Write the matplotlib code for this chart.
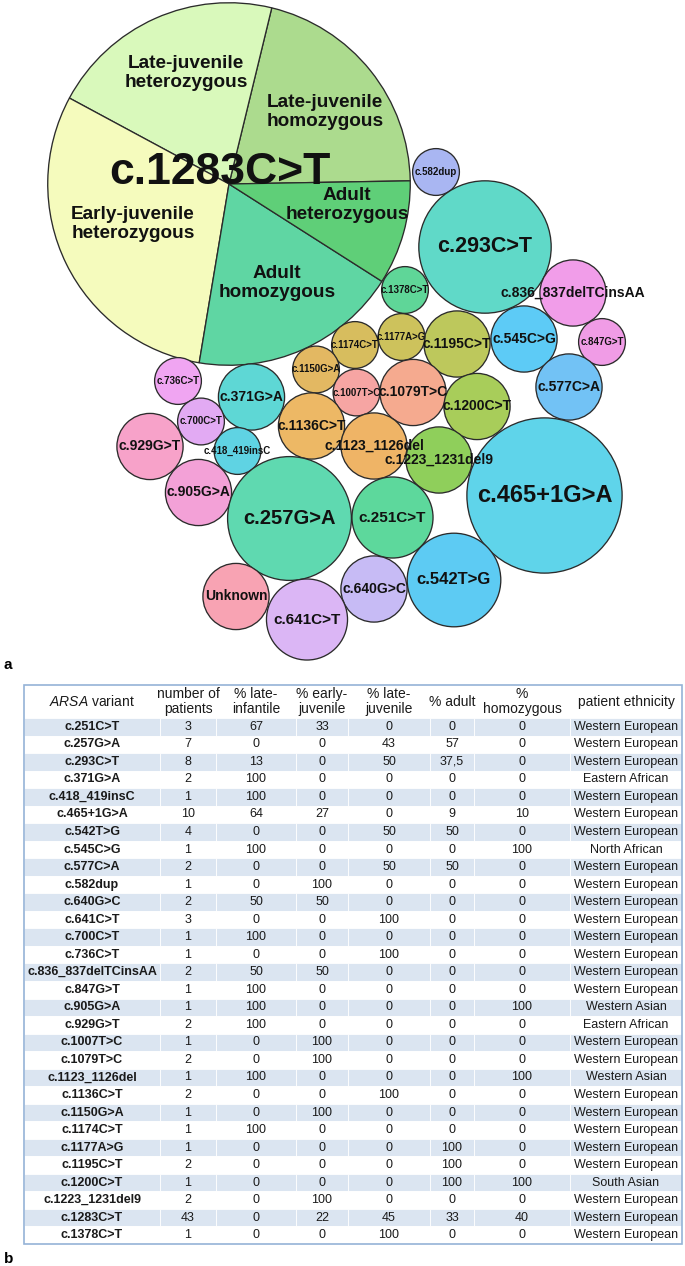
import matplotlib
matplotlib.use("Agg")
import matplotlib.pyplot as plt
from matplotlib.patches import Circle, Rectangle
import numpy as np

plt.rcParams['font.family'] = ['Liberation Sans', 'DejaVu Sans']
plt.rcParams['mathtext.fontset'] = 'custom'
plt.rcParams['mathtext.it'] = 'Liberation Sans:italic'
plt.rcParams['mathtext.rm'] = 'Liberation Sans'

# ---------------- data (table b) ----------------
variants = ["c.251C>T", "c.257G>A", "c.293C>T", "c.371G>A", "c.418_419insC",
            "c.465+1G>A", "c.542T>G", "c.545C>G", "c.577C>A", "c.582dup",
            "c.640G>C", "c.641C>T", "c.700C>T", "c.736C>T", "c.836_837delTCinsAA",
            "c.847G>T", "c.905G>A", "c.929G>T", "c.1007T>C", "c.1079T>C",
            "c.1123_1126del", "c.1136C>T", "c.1150G>A", "c.1174C>T", "c.1177A>G",
            "c.1195C>T", "c.1200C>T", "c.1223_1231del9", "c.1283C>T", "c.1378C>T"]
patients = [3, 7, 8, 2, 1, 10, 4, 1, 2, 1, 2, 3, 1, 1, 2, 1, 1, 2, 1, 2,
            1, 2, 1, 1, 1, 2, 1, 2, 43, 1]
pct_late_infantile = [67, 0, 13, 100, 100, 64, 0, 100, 0, 0, 50, 0, 100, 0, 50,
                      100, 100, 100, 0, 0, 100, 0, 0, 100, 0, 0, 0, 0, 0, 0]
pct_early_juvenile = [33, 0, 0, 0, 0, 27, 0, 0, 0, 100, 50, 0, 0, 0, 50,
                      0, 0, 0, 100, 100, 0, 0, 100, 0, 0, 0, 0, 100, 22, 0]
pct_late_juvenile = [0, 43, 50, 0, 0, 0, 50, 0, 50, 0, 0, 100, 0, 100, 0,
                     0, 0, 0, 0, 0, 0, 100, 0, 0, 0, 0, 0, 0, 45, 100]
pct_adult = [0, 57, 37.5, 0, 0, 9, 50, 0, 50, 0, 0, 0, 0, 0, 0,
             0, 0, 0, 0, 0, 0, 0, 0, 0, 100, 100, 100, 0, 33, 0]
pct_homozygous = [0, 0, 0, 0, 0, 10, 0, 100, 0, 0, 0, 0, 0, 0, 0,
                  0, 100, 0, 0, 0, 100, 0, 0, 0, 0, 0, 100, 0, 40, 0]
ethnicity = ["Western European", "Western European", "Western European", "Eastern African",
             "Western European", "Western European", "Western European", "North African",
             "Western European", "Western European", "Western European", "Western European",
             "Western European", "Western European", "Western European", "Western European",
             "Western Asian", "Eastern African", "Western European", "Western European",
             "Western Asian", "Western European", "Western European", "Western European",
             "Western European", "Western European", "South Asian", "Western European",
             "Western European", "Western European"]
col_headers = ["$\\it{ARSA}$ variant", "number of\npatients", "% late-\ninfantile",
               "% early-\njuvenile", "% late-\njuvenile", "% adult", "%\nhomozygous",
               "patient ethnicity"]

# pie of c.1283C>T (patients per group)
pie_labels = ["Late-juvenile\nhomozygous", "Late-juvenile\nheterozygous",
              "Early-juvenile\nheterozygous", "Adult\nhomozygous", "Adult\nheterozygous"]
pie_counts = [9, 9, 13, 8, 4]
unknown_label = "Unknown"
unknown_alleles = 2

# ---------------- styles / layout ----------------
W, H = 685, 1266
EDGE = "#2b2b2b"
R_UNIT = 23.4   # px radius for one allele
pie_colors = ["#acdb8e", "#d9f9bb", "#f5fbbd", "#5fd6a3", "#5fcf78"]
pie_label_pos = [(325, 112), (186, 73), (133, 224), (277, 283), (347, 205)]

bubble_colors = {
    "c.251C>T": "#5dd89c", "c.257G>A": "#5fd9b0", "c.293C>T": "#60d9c8",
    "c.371G>A": "#5ed7d5", "c.418_419insC": "#5fd3e3", "c.465+1G>A": "#5fd4ea",
    "c.542T>G": "#5dcbf3", "c.545C>G": "#5dcbf6", "c.577C>A": "#72c2f5",
    "c.582dup": "#a9b6f2", "c.640G>C": "#c7bbf5", "c.641C>T": "#dbb6f5",
    "c.700C>T": "#e2aaf3", "c.736C>T": "#f0a5f2", "c.836_837delTCinsAA": "#f19de9",
    "c.847G>T": "#f09ce6", "c.905G>A": "#f3a1d7", "c.929G>T": "#f7a2c9",
    "Unknown": "#f8a3b3", "c.1007T>C": "#f6a5a3", "c.1079T>C": "#f5aa8f",
    "c.1123_1126del": "#efb466", "c.1136C>T": "#edb865", "c.1150G>A": "#e3b862",
    "c.1174C>T": "#d7bd5e", "c.1177A>G": "#cdc25c", "c.1195C>T": "#bdc85c",
    "c.1200C>T": "#a8cd5a", "c.1223_1231del9": "#8fcf5b", "c.1378C>T": "#5fd698",
}
bubble_centers = {
    "c.1283C>T": (229, 184), "c.582dup": (436, 172), "c.293C>T": (485, 247),
    "c.1378C>T": (405, 290), "c.836_837delTCinsAA": (573, 293), "c.847G>T": (602, 342),
    "c.545C>G": (524, 339), "c.1195C>T": (457, 344), "c.1177A>G": (401.5, 337),
    "c.1174C>T": (355, 345), "c.1150G>A": (316, 369.5), "c.1007T>C": (356.5, 392.5),
    "c.1079T>C": (413, 392.5), "c.1200C>T": (477, 406.5), "c.577C>A": (569, 387),
    "c.1136C>T": (311.5, 426), "c.1123_1126del": (374, 446),
    "c.1223_1231del9": (439, 460), "c.465+1G>A": (544.5, 495.5),
    "c.371G>A": (251.5, 397), "c.736C>T": (178, 381), "c.700C>T": (201, 421.5),
    "c.929G>T": (150, 446.5), "c.418_419insC": (237.5, 451), "c.905G>A": (198.5, 492.5),
    "c.257G>A": (289.5, 518.5), "c.251C>T": (392.5, 517.5), "c.542T>G": (454, 580),
    "c.640G>C": (374, 589), "c.641C>T": (307, 619.5), "Unknown": (236, 596.5),
}
label_fs = {1: 7, 2: 10, 3: 11, 4: 12, 7: 14.5, 8: 15.5, 11: 17}

fig = plt.figure(figsize=(W / 100, H / 100), dpi=100)
ax = fig.add_axes([0, 0, 1, 1])

# alleles per variant (homozygous patients carry two alleles)
alleles = {v: n + int(round(n * h / 100.0)) for v, n, h in zip(variants, patients, pct_homozygous)}
alleles[unknown_label] = unknown_alleles

# pie for c.1283C>T
pcx, pcy = bubble_centers["c.1283C>T"]
pie_r = R_UNIT * np.sqrt(alleles["c.1283C>T"])
ax.pie(pie_counts, colors=pie_colors, center=(pcx, pcy), radius=pie_r,
       startangle=-1, counterclock=False,
       wedgeprops=dict(edgecolor=EDGE, linewidth=0.95))
for lab, (x, y) in zip(pie_labels, pie_label_pos):
    ax.text(x, y, lab, ha="center", va="center", fontsize=13.7, fontweight="bold",
            linespacing=1.22, color="#111111", zorder=10)

# bubbles
for name, (x, y) in bubble_centers.items():
    if name == "c.1283C>T":
        continue
    a = alleles[name]
    ax.add_patch(Circle((x, y), R_UNIT * np.sqrt(a), facecolor=bubble_colors[name],
                        edgecolor=EDGE, linewidth=0.95, zorder=3))
for name, (x, y) in bubble_centers.items():
    if name == "c.1283C>T":
        continue
    ax.text(x, y, name, ha="center", va="center", fontsize=label_fs[alleles[name]],
            fontweight="bold", color="#111111", zorder=11)
ax.text(pcx - 9, 172, "c.1283C>T", ha="center", va="center", fontsize=32,
        fontweight="bold", color="#111111", zorder=12)

ax.set_xlim(0, W)
ax.set_ylim(H, 0)
ax.set_aspect("auto")
ax.axis("off")

ax.text(4, 665, "a", ha="left", va="center", fontsize=11, fontweight="bold")
ax.text(4, 1259, "b", ha="left", va="center", fontsize=11, fontweight="bold")

# ---------------- table ----------------
def fmt(v):
    return f"{v:g}".replace(".", ",")

rows = []
for i in range(len(variants)):
    rows.append([variants[i], str(patients[i]), fmt(pct_late_infantile[i]),
                 fmt(pct_early_juvenile[i]), fmt(pct_late_juvenile[i]),
                 fmt(pct_adult[i]), fmt(pct_homozygous[i]), ethnicity[i]])

t_left, t_right, t_top, t_bottom = 24, 682, 685, 1244
tax = fig.add_axes([t_left / W, (H - t_bottom) / H, (t_right - t_left) / W,
                    (t_bottom - t_top) / H])
tax.axis("off")
col_w = [136, 56, 80, 52, 82, 44, 96, 112]
col_w = [c / sum(col_w) for c in col_w]
tbl = tax.table(cellText=[col_headers] + rows, colWidths=col_w, cellLoc="center",
                bbox=[0, 0, 1, 1])
tbl.auto_set_font_size(False)
for (r, c), cell in tbl.get_celld().items():
    cell.set_height(33 if r == 0 else 17.53)
    cell.set_edgecolor("white")
    cell.set_linewidth(0.6)
    txt = cell.get_text()
    txt.set_color("#1a1a1a")
    if r == 0:
        cell.set_facecolor("none")
        cell.set_edgecolor("none")
        txt.set_fontsize(10)
        txt.set_linespacing(1.1)
    else:
        cell.set_facecolor("#dbe5f1" if r % 2 == 1 else "white")
        txt.set_fontsize(9)
        if c == 0:
            txt.set_fontweight("bold")
tax.add_patch(Rectangle((0, 0), 1, 1, transform=tax.transAxes, fill=False,
                        edgecolor="#95b3d7", linewidth=1.2, clip_on=False, zorder=20))

fig.savefig("out.png", dpi=100)
